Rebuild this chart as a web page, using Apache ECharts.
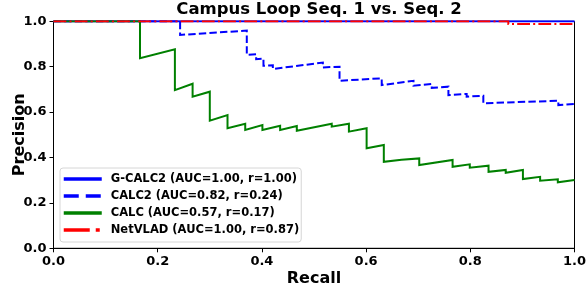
<!DOCTYPE html>
<html>
<head>
<meta charset="utf-8">
<script src="https://cdn.jsdelivr.net/npm/echarts@6/dist/echarts.min.js"></script>
<style>html,body{margin:0;padding:0;background:#fff}#c{width:588px;height:288px}</style>
</head>
<body>
<div id="c"></div>
<script>
const seriesNames = ['G-CALC2 (AUC=1.00, r=1.00)', 'CALC2 (AUC=0.82, r=0.24)', 'CALC (AUC=0.57, r=0.17)', 'NetVLAD (AUC=1.00, r=0.87)'];
const tickValues = [0, 0.2, 0.4, 0.6, 0.8, 1.0];

const gcalc2Recall = [0, 1.0];
const gcalc2Precision = [1.0, 1.0];

const calc2Recall = [0, 0.243, 0.243, 0.371, 0.371, 0.389, 0.389, 0.403, 0.403, 0.421, 0.421, 0.517, 0.517, 0.549, 0.549, 0.630, 0.630, 0.691, 0.691, 0.726, 0.726, 0.758, 0.758, 0.793, 0.793, 0.825, 0.825, 0.969, 0.969, 1.0];
const calc2Precision = [1, 1, 0.940, 0.959, 0.852, 0.855, 0.833, 0.836, 0.804, 0.806, 0.790, 0.818, 0.797, 0.800, 0.738, 0.749, 0.719, 0.738, 0.716, 0.724, 0.707, 0.712, 0.675, 0.680, 0.668, 0.672, 0.639, 0.650, 0.631, 0.636];

const calcRecall = [0, 0.166, 0.166, 0.233, 0.233, 0.267, 0.267, 0.300, 0.300, 0.334, 0.334, 0.368, 0.368, 0.401, 0.401, 0.435, 0.435, 0.467, 0.467, 0.534, 0.534, 0.567, 0.567, 0.601, 0.601, 0.634, 0.634, 0.668, 0.668, 0.702, 0.702, 0.766, 0.766, 0.799, 0.799, 0.835, 0.835, 0.868, 0.868, 0.901, 0.901, 0.934, 0.934, 0.968, 0.968, 1.0];
const calcPrecision = [1, 1, 0.837, 0.877, 0.697, 0.725, 0.668, 0.690, 0.562, 0.587, 0.529, 0.549, 0.521, 0.543, 0.521, 0.540, 0.521, 0.539, 0.518, 0.549, 0.536, 0.549, 0.514, 0.529, 0.441, 0.455, 0.381, 0.390, 0.385, 0.396, 0.367, 0.389, 0.359, 0.370, 0.355, 0.364, 0.337, 0.345, 0.333, 0.345, 0.305, 0.315, 0.298, 0.304, 0.291, 0.301];

const netvladRecall = [0, 0.873, 0.873, 1.0];
const netvladPrecision = [1, 1, 0.988, 0.988];

const zip = (a, b) => a.map((v, i) => [v, b[i]]);
const FONT = 'DejaVu Sans';

const colors = ['#0000ff', '#0000ff', '#008000', '#ff0000'];
const dashes = ['solid', [7.4, 3.2], 'solid', [12.8, 3.2, 2, 3.2]];
const legendDashes = ['solid', [15, 7], 'solid', [26, 6, 4, 6]];
const datasets = [
  zip(gcalc2Recall, gcalc2Precision),
  zip(calc2Recall, calc2Precision),
  zip(calcRecall, calcPrecision),
  zip(netvladRecall, netvladPrecision)
];

const axisCommon = {
  type: 'value', min: 0, max: 1, interval: 0.2,
  nameLocation: 'middle',
  nameMoveOverlap: false,
  nameTextStyle: { fontFamily: FONT, fontWeight: 'bold', fontSize: 16, color: '#000' },
  axisLine: { show: true, lineStyle: { color: '#000', width: 1 } },
  axisTick: { show: true, inside: false, length: 4, lineStyle: { color: '#000' } },
  axisLabel: { fontFamily: FONT, fontWeight: 'bold', fontSize: 13, color: '#000', formatter: v => v.toFixed(1) },
  splitLine: { show: false }
};

const chart = echarts.init(document.getElementById('c'), null, { renderer: 'canvas' });
chart.setOption({
  animation: false,
  backgroundColor: '#fff',
  title: {
    text: 'Campus Loop Seq. 1 vs. Seq. 2',
    left: 314, top: -4, textAlign: 'center',
    textStyle: { fontFamily: FONT, fontWeight: 'bold', fontSize: 16.5, color: '#000' }
  },
  grid: { left: 53.5, right: 13.5, top: 21.3, bottom: 39.7, containLabel: false, outerBoundsMode: 'none', show: true, borderColor: '#000', borderWidth: 1, backgroundColor: 'transparent' },
  xAxis: Object.assign({}, axisCommon, { name: 'Recall', nameGap: 23, axisLabel: Object.assign({}, axisCommon.axisLabel, { margin: 7 }) }),
  yAxis: Object.assign({}, axisCommon, { name: 'Precision', nameGap: 26, axisLabel: Object.assign({}, axisCommon.axisLabel, { margin: 7 }) }),
  legend: {
    orient: 'vertical', left: 60, top: 168,
    padding: [4.5, 2, 5.5, 2],
    itemWidth: 38, itemHeight: 13, itemGap: 4,
    backgroundColor: '#fff', borderColor: '#d6d6d6', borderWidth: 1, borderRadius: 3,
    textStyle: { fontFamily: FONT, fontWeight: 'bold', fontSize: 11.5, lineHeight: 13, color: '#000', padding: [0, 0, 0, 4] },
    data: seriesNames.map((n, i) => ({ name: n, itemStyle: { opacity: 0 }, lineStyle: { width: 3.5, type: legendDashes[i], color: colors[i], cap: 'butt', opacity: 1 } }))
  },
  series: seriesNames.map((n, i) => ({
    name: n, type: 'line', data: datasets[i], symbol: 'none', showSymbol: false,
    clip: true, animation: false,
    lineStyle: { color: colors[i], width: 2, type: dashes[i], cap: 'butt', join: 'miter' },
    itemStyle: { color: colors[i] }
  }))
});
</script>
</body>
</html>
